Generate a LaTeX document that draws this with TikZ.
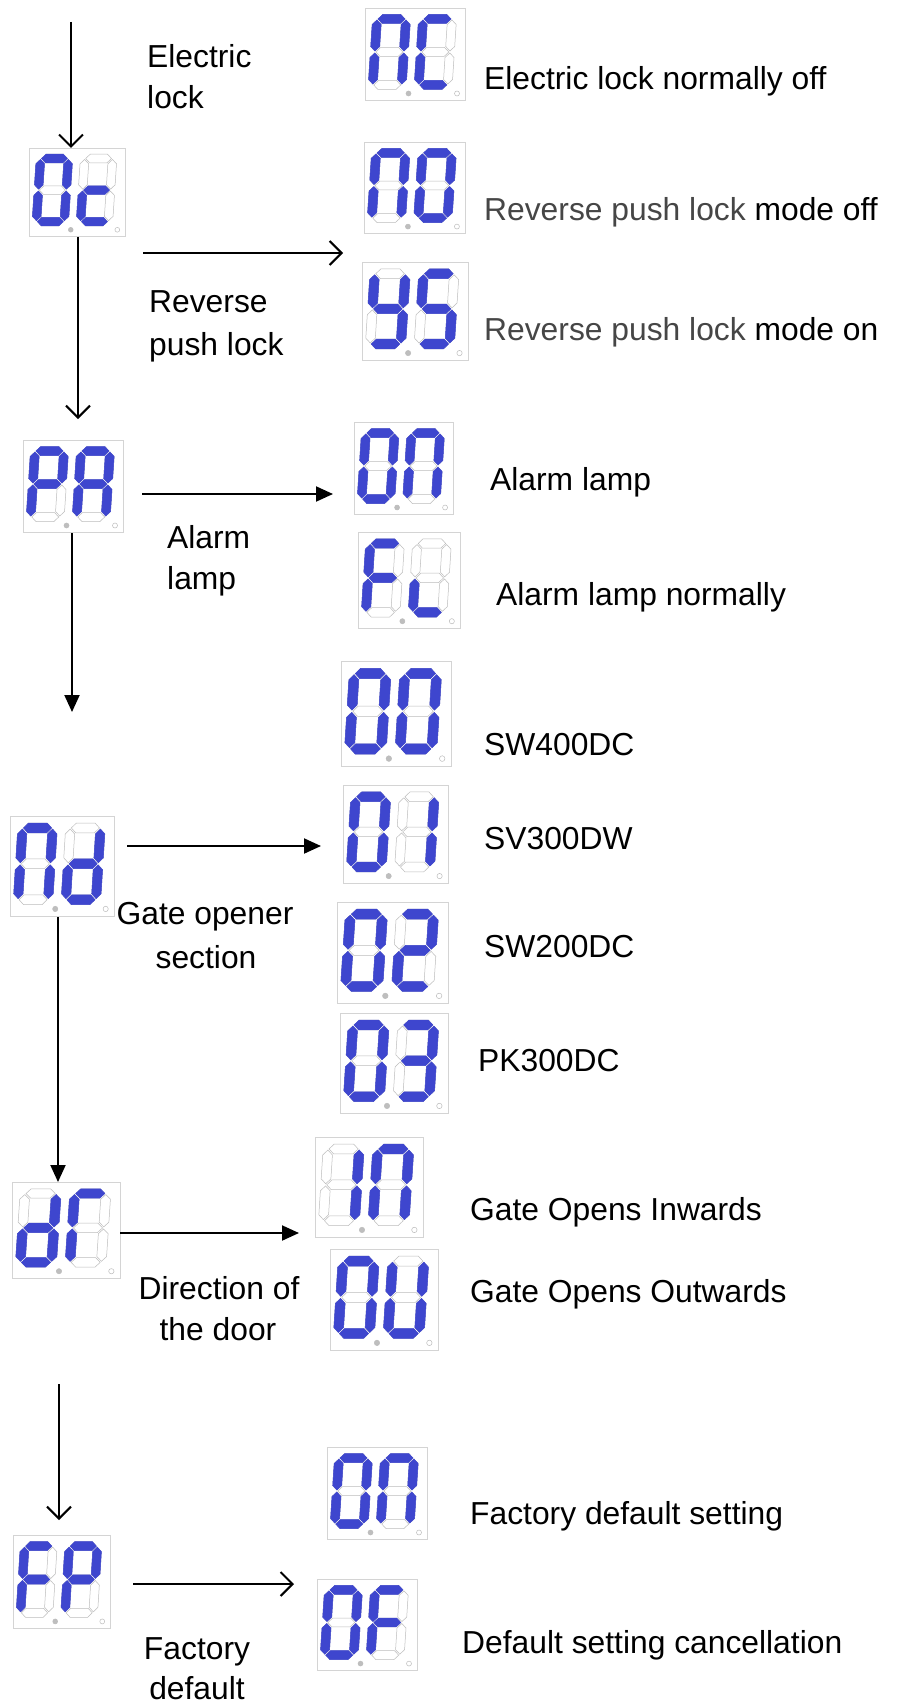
\documentclass[tikz,border=0pt]{standalone}
\usepackage{fontspec}
\setmainfont{Liberation Sans}
\usetikzlibrary{arrows.meta}
\definecolor{segblue}{RGB}{62,70,206}
\definecolor{segoff}{RGB}{188,188,188}
\definecolor{boxline}{RGB}{212,212,212}
\definecolor{dpgray}{RGB}{190,190,190}
\definecolor{txtgray}{RGB}{70,70,70}
% seven segments, local coords: width 29, height 66, y downwards
\newcommand\dsega[1]{\path[#1] (1,0) -- (5.5,-4.5) -- (23.5,-4.5) -- (28,0) -- (23.5,4.5) -- (5.5,4.5) -- cycle;}
\newcommand\dsegg[1]{\path[#1] (1,33) -- (5.5,28.5) -- (23.5,28.5) -- (28,33) -- (23.5,37.5) -- (5.5,37.5) -- cycle;}
\newcommand\dsegd[1]{\path[#1] (1,66) -- (5.5,61.5) -- (23.5,61.5) -- (28,66) -- (23.5,70.5) -- (5.5,70.5) -- cycle;}
\newcommand\dsegf[1]{\path[#1] (0,1) -- (4.5,5.5) -- (4.5,27.5) -- (0,32) -- (-4.5,27.5) -- (-4.5,5.5) -- cycle;}
\newcommand\dsege[1]{\path[#1] (0,34) -- (4.5,38.5) -- (4.5,60.5) -- (0,65) -- (-4.5,60.5) -- (-4.5,38.5) -- cycle;}
\newcommand\dsegb[1]{\path[#1] (29,1) -- (33.5,5.5) -- (33.5,27.5) -- (29,32) -- (24.5,27.5) -- (24.5,5.5) -- cycle;}
\newcommand\dsegc[1]{\path[#1] (29,34) -- (33.5,38.5) -- (33.5,60.5) -- (29,65) -- (24.5,60.5) -- (24.5,38.5) -- cycle;}
\newcommand\sevdigit[3]{%
  \begin{scope}[shift={(#1,#2)}, xslant=0.065]
    \foreach \s in {a,b,c,d,e,f,g} {\csname dseg\s\endcsname{segoffst}}
    \foreach \s in {#3} {\csname dseg\s\endcsname{segonst}}
  \end{scope}}
\newcommand\display[7]{%
  \pgfmathsetmacro\dw{#4-#2}\pgfmathsetmacro\dh{#5-#3}%
  \pgfmathsetmacro\dsx{\dw/100}\pgfmathsetmacro\dsy{\dh/92}%
  \node[dispbox, minimum width=\dw pt, minimum height=\dh pt, anchor=north west] (#1) at (#2,#3) {};
  \begin{scope}[shift={(#2,#3)}, xscale=\dsx, yscale=\dsy]
    \sevdigit{12}{11}{#6}
    \sevdigit{58}{11}{#7}
    \path[draw=segoff, fill=dpgray, line width=0.5pt] (43.5,85.5) circle[radius=2.5];
    \path[draw=segoff, fill=white, line width=0.5pt] (92,85.5) circle[radius=2.5];
  \end{scope}}
\begin{document}
\begin{tikzpicture}[x=1pt, y=-1pt,
  dispbox/.style={draw=boxline, fill=white, line width=1pt, inner sep=0pt, rectangle},
  segoffst/.style={draw=segoff, line width=0.5pt, fill=white},
  segonst/.style={fill=segblue, draw=segblue, line width=0.5pt},
  lbl/.style={font=\fontsize{31.8}{38}\selectfont, inner sep=0pt, anchor=base west},
  clbl/.style={font=\fontsize{31.8}{38}\selectfont, inner sep=0pt, anchor=base},
  openarr/.style={line width=2pt, -{Straight Barb[length=12pt,width=24pt]}},
  filarr/.style={line width=2pt, -{Triangle[length=17pt,width=15pt]}}]
\useasboundingbox[fill=white] (0,0) rectangle (898,1704);

% displays
\display{b0c}{29}{148}{125}{236}{a,b,c,d,e,f}{d,e,g}
\display{bNC}{365}{8}{465}{100}{a,b,c,e,f}{a,d,e,f}
\display{bNO}{364}{142}{465}{233}{a,b,c,e,f}{a,b,c,d,e,f}
\display{bYS}{362}{262}{468}{360}{b,c,d,f,g}{a,c,d,f,g}
\display{bPA}{23}{440}{123}{532}{a,b,e,f,g}{a,b,c,e,f,g}
\display{bOn}{354}{422}{453}{514}{a,b,c,d,e,f}{a,b,c,e,f}
\display{bFL}{358}{532}{460}{628}{a,e,f,g}{d,e}
\display{b00}{341}{661}{451}{766}{a,b,c,d,e,f}{a,b,c,d,e,f}
\display{b01}{343}{785}{448}{883}{a,b,c,d,e,f}{b,c}
\display{b02}{337}{902}{448}{1003}{a,b,c,d,e,f}{a,b,d,e,g}
\display{b03}{340}{1013}{448}{1113}{a,b,c,d,e,f}{a,b,c,d,g}
\display{bNd}{10}{816}{114}{916}{a,b,c,e,f}{b,c,d,e,g}
\display{bdr}{12}{1182}{120}{1278}{b,c,d,e,g}{a,e,f}
\display{bIN}{315}{1137}{423}{1237}{b,c}{a,b,c,e,f}
\display{bOU}{330}{1249}{438}{1350}{a,b,c,d,e,f}{b,c,d,e,f}
\display{bFn}{327}{1447}{427}{1539}{a,b,c,d,e,f}{a,b,c,e,f}
\display{bFP}{13}{1535}{110}{1628}{a,e,f,g}{a,b,e,f,g}
\display{b0F}{317}{1579}{417}{1670}{a,b,c,d,e,f}{a,e,f,g}

% connector end points
\coordinate (s1) at (71,22);
\coordinate (e2) at (78,419);
\coordinate (s3) at (143,253);  \coordinate (e3) at (343,253);
\coordinate (s4) at (142,494);  \coordinate (e4) at (333,494);
\coordinate (e5) at (72,712);
\coordinate (s6) at (127,846);  \coordinate (e6) at (321,846);
\coordinate (s8) at (120,1233); \coordinate (e8) at (299,1233);
\coordinate (s9) at (59,1384);  \coordinate (e9) at (59,1520);
\coordinate (s10) at (133,1584); \coordinate (e10) at (294,1584);

% connectors
\draw[openarr] (s1) -- (s1 |- b0c.north);
\draw[openarr] (b0c.south -| e2) -- (e2);
\draw[openarr] (s3) -- (e3);
\draw[filarr] (s4) -- (e4);
\draw[filarr] (bPA.south -| e5) -- (e5);
\draw[filarr] (s6) -- (e6);
\draw[filarr] (bNd.south -| 58,0) -- (bdr.north -| 58,0);
\draw[filarr] (s8) -- (e8);
\draw[openarr] (s9) -- (e9);
\draw[openarr] (s10) -- (e10);

% left labels
\node[lbl] (t1) at (147,68) {Electric};
\node[lbl] (t2) at (147,109) {lock};
\node[lbl] (t3) at (149,312) {Reverse};
\node[lbl] (t4) at (149,355) {push lock};
\node[lbl] (t5) at (167,548) {Alarm};
\node[lbl] (t6) at (167,589) {lamp};
\node[clbl] (t7) at (205,924) {Gate opener};
\node[clbl] (t8) at (206,968) {section};
\node[clbl] (t9) at (219,1299) {Direction of};
\node[clbl] (t10) at (218,1340) {the door};
\node[clbl] (t11) at (197,1659) {Factory};
\node[clbl] (t12) at (197,1699) {default};

% right labels
\node[lbl] (r1) at (484,90) {Electric lock normally off};
\node[lbl] (r2) at (484,221) {\textcolor{txtgray}{Reverse push lock} mode off};
\node[lbl] (r3) at (484,340) {\textcolor{txtgray}{Reverse push lock} mode on};
\node[lbl] (r4) at (490,490) {Alarm lamp};
\node[lbl] (r5) at (496,605) {Alarm lamp normally};
\node[lbl] (r6) at (484,755) {SW400DC};
\node[lbl] (r7) at (484,849) {SV300DW};
\node[lbl] (r8) at (484,957) {SW200DC};
\node[lbl] (r9) at (478,1071) {PK300DC};
\node[lbl] (r10) at (470,1220) {Gate Opens Inwards};
\node[lbl] (r11) at (470,1302) {Gate Opens Outwards};
\node[lbl] (r12) at (470,1524) {Factory default setting};
\node[lbl] (r13) at (462,1653) {Default setting cancellation};
\end{tikzpicture}
\end{document}
